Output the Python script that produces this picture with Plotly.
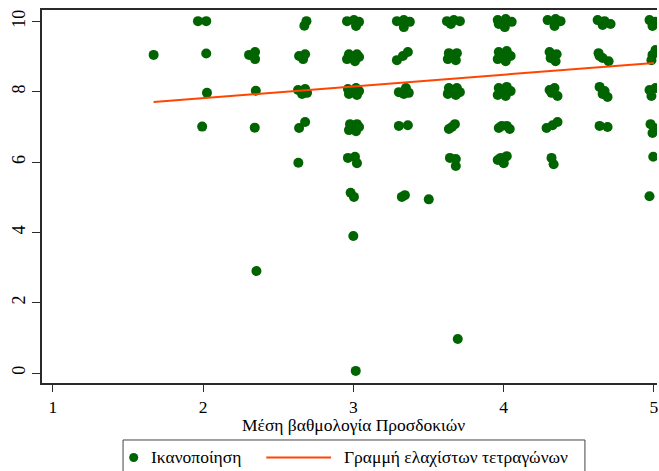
import plotly.graph_objects as go

# Scatter points (jittered values)
sat_x = [
    1.67,
    1.965, 2.02, 2.02, 2.025, 1.993,
    2.305, 2.345, 2.345, 2.35, 2.343, 2.354,
    2.673, 2.687, 2.638, 2.678, 2.665, 2.631, 2.678, 2.658, 2.691, 2.638, 2.678, 2.633,
    2.957, 3.003, 3.037, 3.017,
    2.970, 3.023, 2.957, 3.010, 3.037,
    2.963, 3.017, 2.970, 3.023, 2.983, 3.037,
    2.977, 3.023, 2.970, 3.017, 3.037,
    2.963, 3.010, 3.023,
    2.981, 3.003, 2.999, 3.015,
    3.289, 3.335, 3.375, 3.335,
    3.289, 3.329, 3.362,
    3.302, 3.349, 3.335, 3.368,
    3.302, 3.362,
    3.322, 3.342, 3.501,
    3.622, 3.668, 3.708, 3.648,
    3.635, 3.688, 3.628, 3.681, 3.661,
    3.635, 3.688, 3.628, 3.681, 3.661, 3.708,
    3.635, 3.675, 3.655,
    3.642, 3.681, 3.681, 3.694,
    3.960, 4.013, 4.053, 4.007, 3.967,
    3.967, 4.020, 3.960, 4.013, 4.046, 3.993,
    3.967, 4.020, 3.960, 4.013, 4.046, 3.993,
    3.967, 4.020, 4.040, 3.987,
    3.980, 4.020, 4.000, 3.960,
    4.292, 4.345, 4.378, 4.338,
    4.305, 4.352, 4.312, 4.345,
    4.305, 4.338, 4.358, 4.318,
    4.285, 4.325, 4.358,
    4.318, 4.332,
    4.625, 4.671, 4.711, 4.658,
    4.631, 4.658, 4.698, 4.638,
    4.638, 4.671, 4.691, 4.658,
    4.638, 4.691,
    4.970, 5.010, 4.990,
    4.990, 5.010, 4.983,
    4.970, 5.010, 4.983,
    4.977, 5.003, 4.990,
    4.995, 4.970,
]
sat_y = [
    9.05,
    10.01, 10.01, 9.09, 7.97, 7.01,
    9.05, 9.13, 8.93, 8.03, 6.98, 2.90,
    9.88, 10.01, 9.02, 9.07, 8.93, 8.05, 8.08, 7.94, 7.97, 6.97, 7.14, 5.98,
    10.01, 10.04, 9.99, 9.87,
    9.07, 9.07, 8.93, 8.87, 8.99,
    8.08, 8.11, 7.94, 7.91, 8.02, 8.02,
    7.08, 7.08, 6.91, 6.88, 7.00,
    6.12, 6.15, 5.97,
    5.13, 5.01, 3.90, 0.06,
    10.01, 10.04, 9.99, 9.84,
    8.90, 9.02, 9.13,
    7.99, 8.11, 7.94, 7.97,
    7.03, 7.05,
    5.01, 5.06, 4.94,
    10.01, 10.04, 10.01, 9.93,
    9.10, 9.10, 8.93, 8.90, 9.02,
    8.11, 8.11, 7.94, 7.91, 8.02, 7.99,
    6.94, 7.08, 7.00,
    6.12, 6.09, 5.89, 0.97,
    10.04, 10.07, 9.99, 9.84, 9.93,
    9.13, 9.16, 8.93, 8.87, 9.02, 9.02,
    8.11, 8.14, 7.91, 7.88, 8.02, 8.02,
    6.97, 7.03, 6.94, 7.03,
    6.12, 6.17, 5.97, 6.06,
    10.04, 10.07, 10.01, 9.87,
    9.13, 9.07, 8.96, 8.87,
    8.05, 8.11, 7.88, 7.97,
    6.97, 7.05, 7.14,
    6.12, 5.94,
    10.04, 10.01, 9.93, 9.90,
    9.10, 8.96, 8.87, 9.02,
    8.14, 8.02, 7.85, 7.94,
    7.03, 7.00,
    10.04, 9.99, 9.87,
    9.05, 9.19, 8.90,
    8.05, 8.11, 7.88,
    7.08, 6.97, 6.83,
    6.15, 5.03,
]

# Least-squares fitted line (end points)
fit_x = [1.67, 5.0]
fit_y = [7.71, 8.82]

x_ticks = [1, 2, 3, 4, 5]
y_ticks = [0, 2, 4, 6, 8, 10]

series_names = ["Ικανοποίηση", "Γραμμή ελαχίστων τετραγώνων"]
x_title = "Μέση βαθμολογία Προσδοκιών"

FONT = "Liberation Serif"
GREEN = "#006400"
ORANGE = "#FF4500"
AX = "#2a2a2a"

fig = go.Figure()
fig.add_trace(go.Scatter(
    x=sat_x, y=sat_y, mode="markers", name=series_names[0],
    marker=dict(color=GREEN, size=10, line=dict(width=0)),
))
fig.add_trace(go.Scatter(
    x=fit_x, y=fit_y, mode="lines", name=series_names[1],
    line=dict(color=ORANGE, width=2),
))

# x-axis title placed as an annotation for exact placement
fig.add_annotation(xref="paper", yref="paper", x=0.507, y=-0.1139,
                   xanchor="center", yanchor="middle", showarrow=False,
                   borderpad=0,
                   text=x_title, font=dict(family=FONT, size=17.5))

# Custom legend box below the plot (paper coordinates of the plot area)
leg_y = -0.1997
fig.add_shape(type="rect", xref="paper", yref="paper",
              x0=0.1318, x1=0.8828, y0=-0.1528, y1=-0.30,
              line=dict(color="#444", width=1), fillcolor="rgba(0,0,0,0)")
fig.add_shape(type="circle", xref="paper", yref="paper",
              xsizemode="pixel", ysizemode="pixel",
              xanchor=0.1491, yanchor=leg_y, x0=-4.5, x1=4.5, y0=-4.5, y1=4.5,
              fillcolor=GREEN, line=dict(width=0))
fig.add_shape(type="line", xref="paper", yref="paper",
              x0=0.3647, x1=0.4700, y0=leg_y, y1=leg_y,
              line=dict(color=ORANGE, width=2))
fig.add_annotation(xref="paper", yref="paper", x=0.1734, y=leg_y,
                   xanchor="left", yanchor="middle", showarrow=False,
                   text=series_names[0], font=dict(family=FONT, size=17.5))
fig.add_annotation(xref="paper", yref="paper", x=0.4878, y=leg_y,
                   xanchor="left", yanchor="middle", showarrow=False,
                   text=series_names[1], font=dict(family=FONT, size=17.5))

fig.update_layout(
    width=659, height=471,
    margin=dict(l=42, r=0, t=10, b=88),
    paper_bgcolor="white", plot_bgcolor="white",
    font=dict(family=FONT, size=17.5, color="black"),
    showlegend=False,
    xaxis=dict(
        range=[0.927, 5.020], tickvals=x_ticks, ticks="outside", ticklen=7,
        showgrid=False, zeroline=False, showline=True, linecolor=AX,
        linewidth=1.5, mirror=True, tickcolor=AX, tickwidth=1.2,
        ticklabeloverflow="allow",
        tickfont=dict(family=FONT, size=17.5),
    ),
    yaxis=dict(
        range=[-0.284, 10.327], tickvals=y_ticks, ticks="outside", ticklen=8,
        showgrid=False, zeroline=False, showline=True, linecolor=AX,
        linewidth=1.5, tickcolor=AX, tickwidth=1.2, tickangle=-90,
        tickfont=dict(family=FONT, size=18),
    ),
)

fig.write_html("out.html")
